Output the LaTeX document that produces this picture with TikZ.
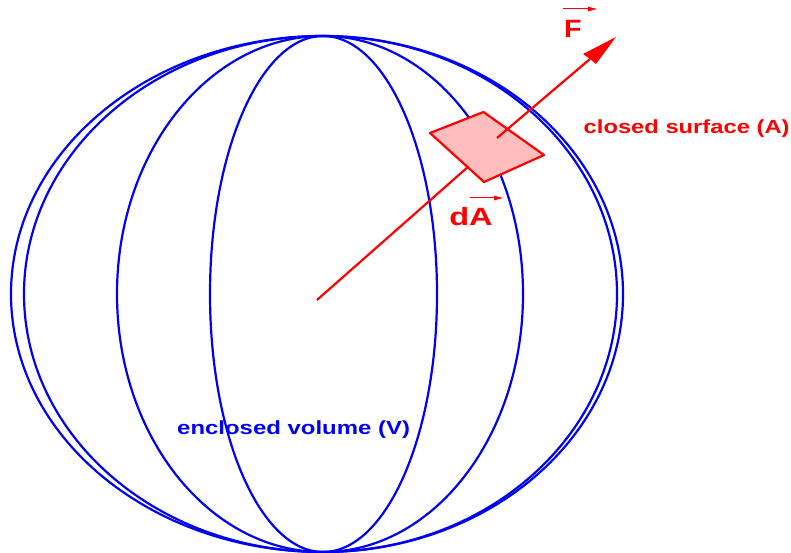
\documentclass[tikz,border=0pt]{standalone}
\usepackage{fontspec}
\setmainfont{Liberation Sans}
\usetikzlibrary{arrows.meta}
\definecolor{bl}{rgb}{0,0,0.95}
\definecolor{rd}{rgb}{1,0,0}
\tikzset{
  x=1pt,y=-1pt,
  meridian/.style={draw=bl,line width=2.2pt},
  redline/.style={draw=rd,line width=2.2pt},
  patch/.style={draw=rd,fill=rd!26,line width=2.2pt,line join=round},
  lab/.style={font=\bfseries\fontsize{19}{22}\selectfont,inner sep=0pt,anchor=west},
  biglab/.style={font=\bfseries\fontsize{25}{29}\selectfont,text=rd,inner sep=0pt},
  vecbar/.style={draw=rd,line width=1pt,-{Latex[length=10pt,width=5pt]}}
}
\begin{document}
\begin{tikzpicture}
\useasboundingbox (0,0) rectangle (791,553);
\coordinate (pole) at (323,36);
\draw[meridian] (pole) arc [start angle=-90,end angle=-270,x radius=312,y radius=258];
\draw[meridian] (pole) arc [start angle=-90,end angle=-270,x radius=299,y radius=258];
\draw[meridian] (pole) arc [start angle=-90,end angle=-270,x radius=206,y radius=258];
\draw[meridian] (pole) arc [start angle=-90,end angle=-270,x radius=113,y radius=258];
\draw[meridian] (pole) arc [start angle=-90,end angle=90,x radius=300,y radius=258];
\draw[meridian] (pole) arc [start angle=-90,end angle=90,x radius=294,y radius=258];
\draw[meridian] (pole) arc [start angle=-90,end angle=90,x radius=200,y radius=258];
\draw[meridian] (pole) arc [start angle=-90,end angle=90,x radius=114,y radius=258];
\coordinate (o) at (317,300);
\coordinate (hid) at (469,166);
\coordinate (in) at (497,138);
\coordinate (tip) at (616,37);
\coordinate (shaft) at (590,59);
\coordinate (hl) at (583,54);
\coordinate (hr) at (596,64);
\draw[redline] (o) -- (hid);
\draw[patch] (430,133) -- (483.5,112) -- (544,155) -- (484,182) -- cycle;
\draw[redline] (in) -- (shaft);
\fill[rd] (tip) -- (hl) -- (shaft) -- (hr) -- cycle;
\node[lab,text=rd] (cs) at (583.5,128.5) {\scalebox{1.25}[1]{closed surface (A)}};
\node[lab,text=bl] (ev) at (177,430) {\scalebox{1.26}[1]{enclosed volume (V)}};
\node[biglab] (da) at (471,217) {\scalebox{1.3}[1]{dA}};
\node[biglab] (f) at (573,29) {\scalebox{1.15}[1]{F}};
\coordinate (a1) at (470,198); \coordinate (a2) at (504,198);
\coordinate (b1) at (563,9); \coordinate (b2) at (598,9);
\draw[vecbar] (a1) -- (a2);
\draw[vecbar] (b1) -- (b2);
\end{tikzpicture}
\end{document}
